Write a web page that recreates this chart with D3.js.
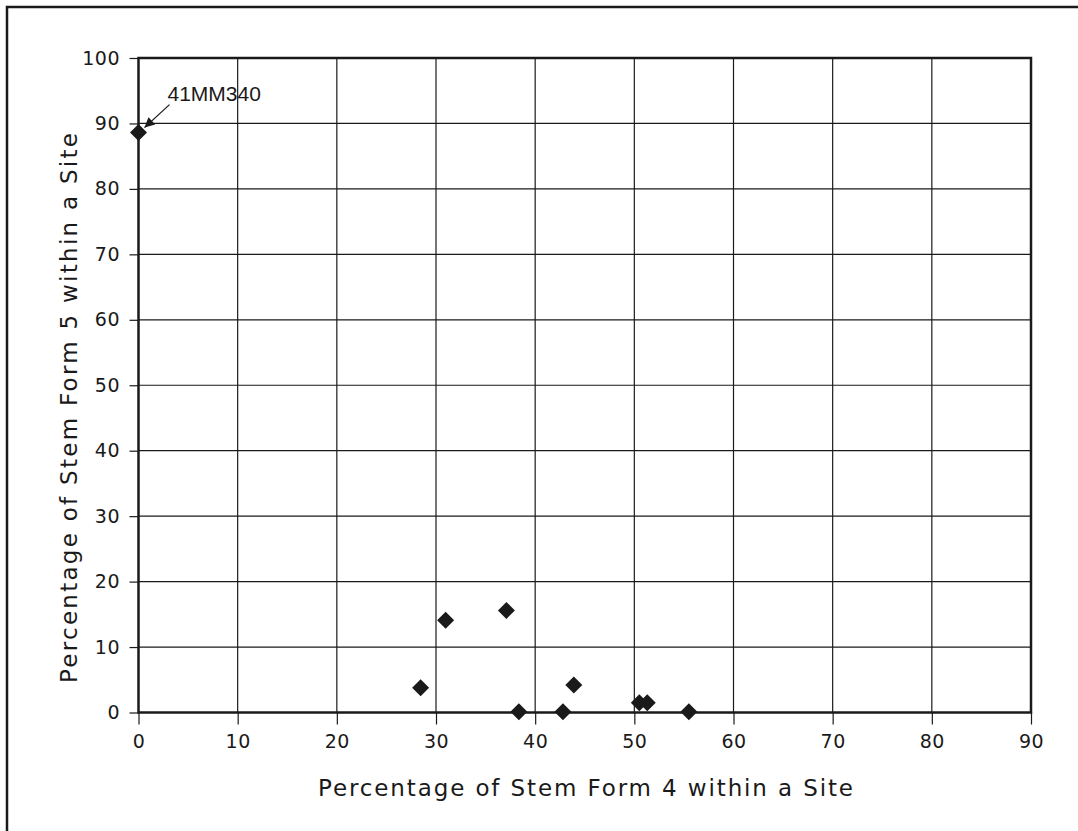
<!DOCTYPE html>
<html>
<head>
<meta charset="utf-8">
<script src="https://cdn.jsdelivr.net/npm/d3@7"></script>
<style>
  html, body { margin: 0; padding: 0; background: #fff; }
  svg { display: block; }
  text { font-family: "DejaVu Sans", "Lato", sans-serif; fill: #1a1a1a; }
</style>
</head>
<body>
<svg id="chart" width="1078" height="831"></svg>
<script>
// Stem form percentages per site
const stemForm4 = [0, 28.45, 30.97, 37.1, 38.36, 42.8, 43.9, 50.5, 51.3, 55.5];
const stemForm5 = [88.6, 3.8, 14.1, 15.6, 0.1, 0.1, 4.2, 1.5, 1.5, 0.1];
const xTicks = [0, 10, 20, 30, 40, 50, 60, 70, 80, 90];
const yTicks = [0, 10, 20, 30, 40, 50, 60, 70, 80, 90, 100];
const labelledSite = { name: "41MM340", x: 0, y: 88.6 };

const svg = d3.select("#chart");
const ink = "#1a1a1a";

const plotL = 138.5, plotR = 1031, plotT = 58, plotB = 712.5;
const x = d3.scaleLinear().domain([0, 90]).range([plotL, plotR]);
const y = d3.scaleLinear().domain([0, 100]).range([plotB, plotT]);

// outer frame (open at right and bottom)
svg.append("path")
  .attr("d", `M7,831 L7,7 L1078,7`)
  .attr("fill", "none").attr("stroke", ink).attr("stroke-width", 2.5);

// grid
const grid = svg.append("g");
grid.selectAll("line.v").data(xTicks.slice(1, -1)).join("line")
  .attr("x1", d => x(d)).attr("x2", d => x(d))
  .attr("y1", plotT).attr("y2", plotB)
  .attr("stroke", ink).attr("stroke-width", 1.2);
grid.selectAll("line.h").data(yTicks.slice(1, -1)).join("line")
  .attr("x1", plotL).attr("x2", plotR)
  .attr("y1", d => y(d)).attr("y2", d => y(d))
  .attr("stroke", ink).attr("stroke-width", 1.2);

// axes
const xAxis = d3.axisBottom(x).tickValues(xTicks).tickSize(12).tickPadding(10.5).tickSizeOuter(0);
const yAxis = d3.axisLeft(y).tickValues(yTicks).tickSize(9).tickPadding(9.5).tickSizeOuter(0);

const gx = svg.append("g").attr("transform", `translate(0,${plotB})`).call(xAxis);
const gy = svg.append("g").attr("transform", `translate(${plotL},0)`).call(yAxis);
[gx, gy].forEach(g => {
  g.select(".domain").remove();
  g.selectAll(".tick line").attr("stroke", ink).attr("stroke-width", 1.2);
  g.selectAll(".tick text").attr("fill", ink)
    .style("font-family", "'DejaVu Sans', sans-serif")
    .style("font-size", "19px").style("letter-spacing", "0.5px");
});

// plot frame
svg.append("rect")
  .attr("x", plotL).attr("y", plotT)
  .attr("width", plotR - plotL).attr("height", plotB - plotT)
  .attr("fill", "none").attr("stroke", ink).attr("stroke-width", 2.5);

// points
const pts = stemForm4.map((v, i) => ({ x: v, y: stemForm5[i] }));
svg.append("g").selectAll("path").data(pts).join("path")
  .attr("transform", d => `translate(${x(d.x)},${y(d.y)})`)
  .attr("d", "M0,-8.5 L8.5,0 L0,8.5 L-8.5,0 Z")
  .attr("fill", ink);

// annotation
svg.append("defs").append("marker")
  .attr("id", "arrow").attr("viewBox", "0 0 10 10")
  .attr("refX", 10).attr("refY", 5)
  .attr("markerWidth", 13).attr("markerHeight", 10)
  .attr("markerUnits", "userSpaceOnUse")
  .attr("orient", "auto")
  .append("path").attr("d", "M0,0 L10,5 L0,10 Z").attr("fill", ink);

const ax = x(labelledSite.x), ay = y(labelledSite.y);
svg.append("line")
  .attr("x1", ax + 31).attr("y1", ay - 28)
  .attr("x2", ax + 6).attr("y2", ay - 5)
  .attr("stroke", ink).attr("stroke-width", 1.3)
  .attr("marker-end", "url(#arrow)");
svg.append("text")
  .attr("x", ax + 29).attr("y", ay - 32)
  .style("font-family", "'Liberation Sans', Arial, sans-serif")
  .style("font-size", "21px")
  .text(labelledSite.name);

// axis titles
svg.append("text")
  .attr("x", 318).attr("y", 796)
  .attr("textLength", 535).attr("lengthAdjust", "spacing")
  .style("font-size", "23px")
  .text("Percentage of Stem Form 4 within a Site");

svg.append("text")
  .attr("transform", "translate(77,683) rotate(-90)")
  .attr("textLength", 550).attr("lengthAdjust", "spacing")
  .style("font-size", "23px")
  .text("Percentage of Stem Form 5 within a Site");
</script>
</body>
</html>
